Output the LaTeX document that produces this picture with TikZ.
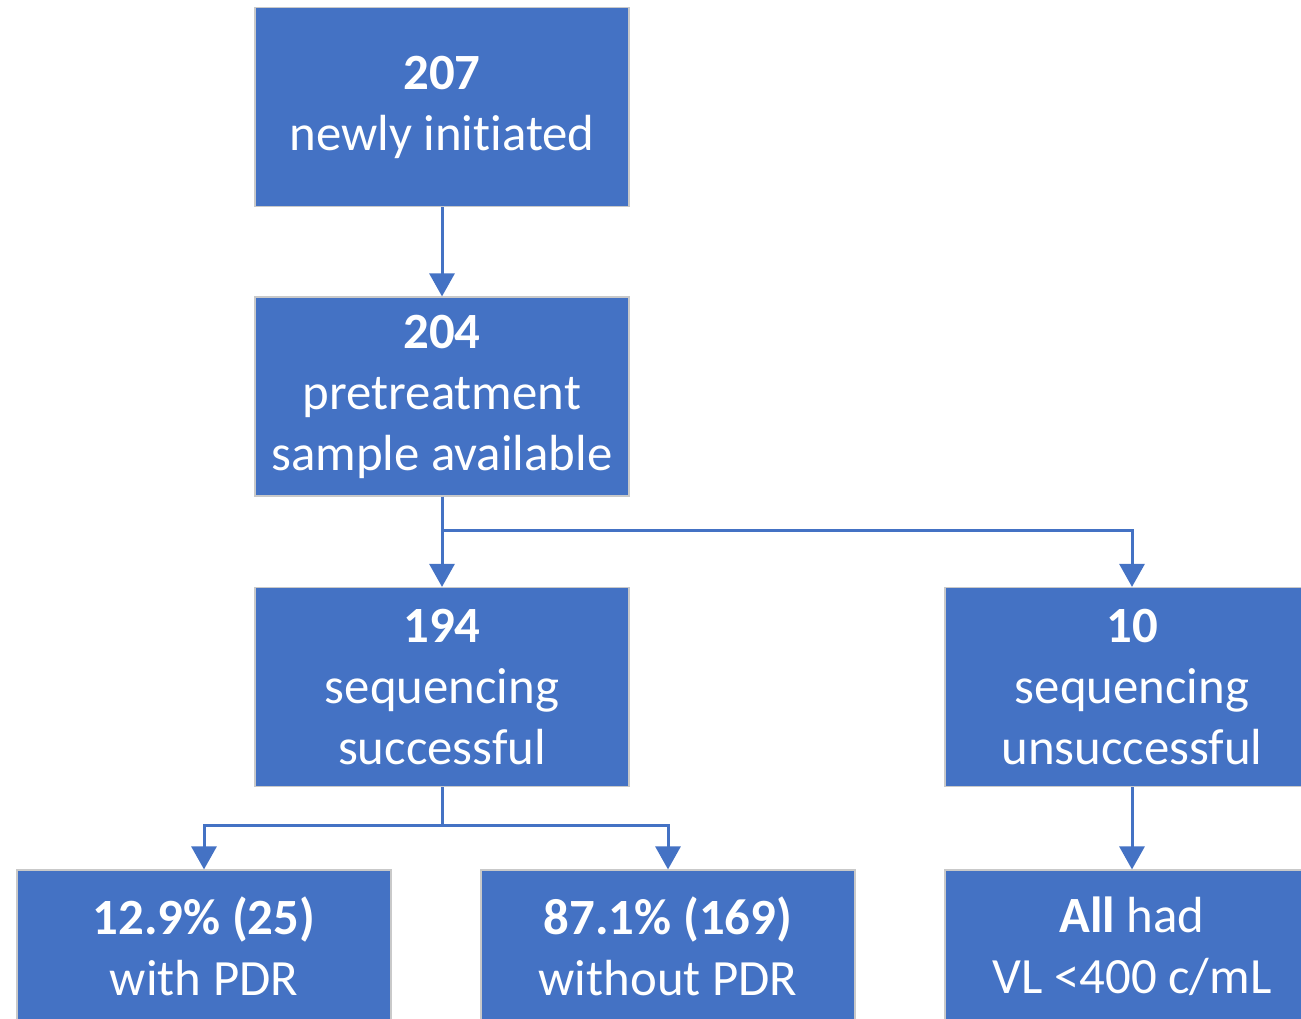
\documentclass[tikz,border=0pt]{standalone}
\usepackage{fontspec}
\setmainfont{Carlito}[Ligatures=NoCommon]
\usepackage{tikz}
\usetikzlibrary{arrows.meta}
\definecolor{boxblue}{HTML}{4472C4}
\definecolor{boxedge}{HTML}{C9C9C9}

\begin{document}
\begin{tikzpicture}[x=0.5pt,y=-0.5pt,
  flowbox/.style={rectangle,fill=boxblue,draw=boxedge,line width=0.6pt,text=white,align=center,
    minimum width=187pt,minimum height=99.5pt,inner sep=0pt,font=\fontsize{25.4}{30.5}\selectfont},
  lowbox/.style={flowbox,minimum height=76pt},
  flowarrow/.style={draw=boxblue,line width=1.5pt,-{Triangle[width=12.5pt,length=11.5pt]}}]
\clip (0,0) rectangle (1301,1018);
\node[flowbox] (n207) at (442,107) {\textbf{207}\\newly initiated};
\node[flowbox] (n204) at (442,396.5) {\textbf{204}\\pretreatment\\sample available};
\node[flowbox] (n194) at (442,687) {\textbf{194}\\sequencing\\successful};
\node[flowbox] (n10) at (1132,687) {\textbf{10}\\sequencing\\unsuccessful};
\node[lowbox] (pdr) at (204,946) {\textbf{12.9\% (25)}\\with PDR};
\node[lowbox] (nopdr) at (668,946) {\textbf{87.1\% (169)}\\without PDR};
\node[lowbox] (vl) at (1132,946) {\textbf{All} had\\VL <400 c/mL};
\draw[flowarrow] (n207) -- (n204);
\draw[flowarrow] (n204) -- (n194);
\draw[flowarrow] (n204.south) -- ++(0,34) -| (n10.north);
\draw[flowarrow] (n194.south) -- ++(0,38) -| (pdr.north);
\draw[flowarrow] (n194.south) -- ++(0,38) -| (nopdr.north);
\draw[flowarrow] (n10) -- (vl);
\end{tikzpicture}
\end{document}
